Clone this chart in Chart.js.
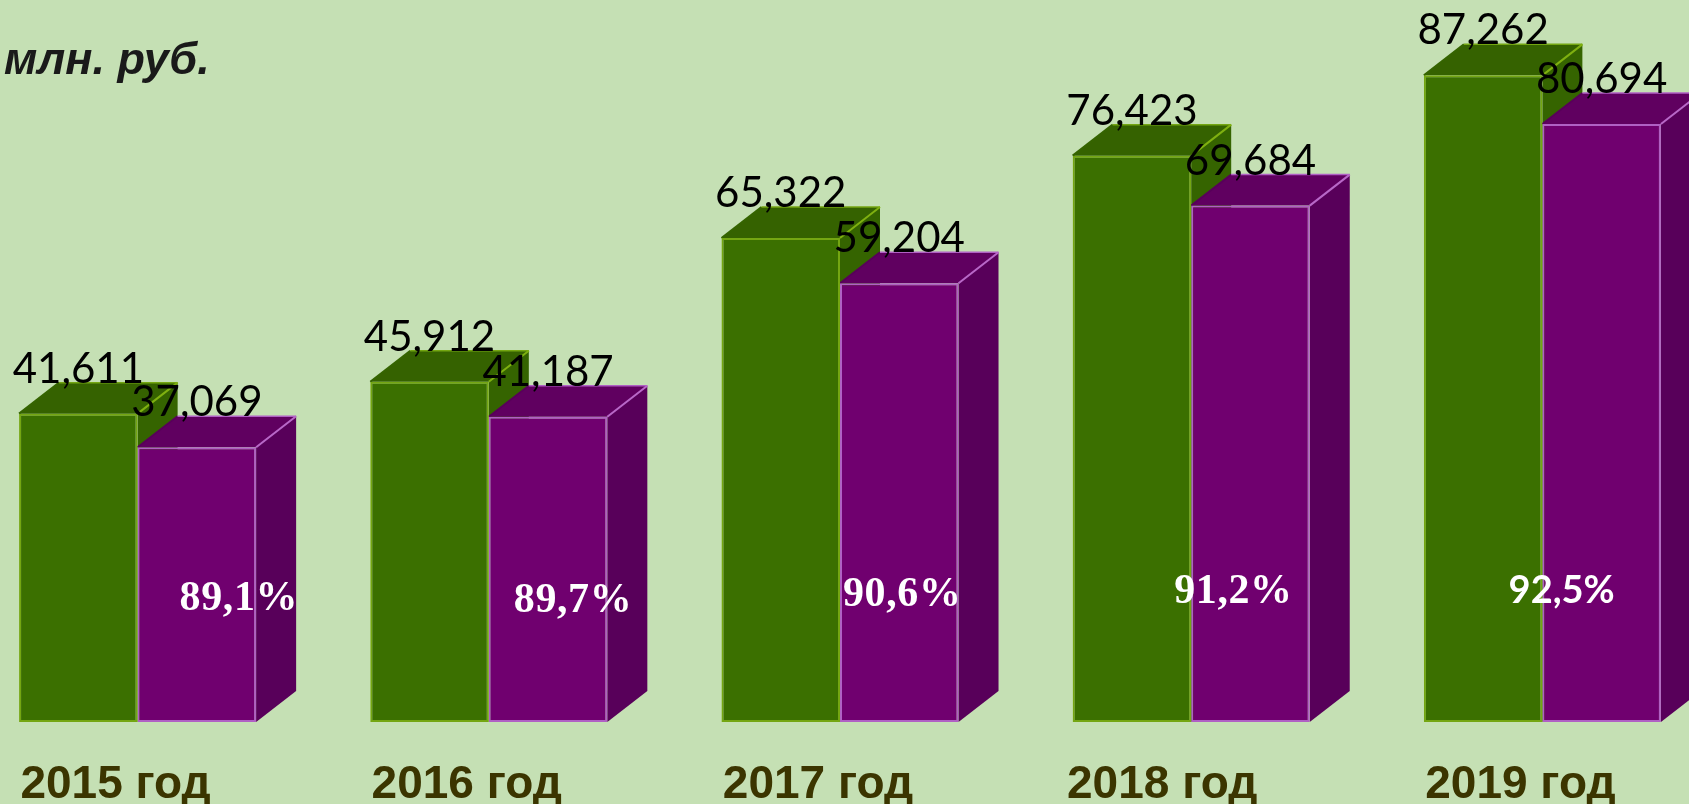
<!DOCTYPE html>
<html><head><meta charset="utf-8">
<style>html,body{margin:0;padding:0;background:#C5E0B4;overflow:hidden}canvas{display:block;margin-left:-38px}</style>
<script src="https://cdn.jsdelivr.net/npm/chart.js@4"></script></head>
<body><canvas id="c" width="1756" height="804"></canvas>
<script>
const categories = ['2015 год','2016 год','2017 год','2018 год','2019 год'];
const seriesGreen = [41.611, 45.912, 65.322, 76.423, 87.262];
const seriesPurple = [37.069, 41.187, 59.204, 69.684, 80.694];
const greenLabels = ['41,611','45,912','65,322','76,423','87,262'];
const purpleLabels = ['37,069','41,187','59,204','69,684','80,694'];
const percentLabels = ['89,1%','89,7%','90,6%','91,2%','92,5%'];
const unitLabel = 'млн. руб.';

const PAGE_SHIFT = 38;           // canvas sits this far left of the page edge
const DEPTH_X = 40, DEPTH_Y = 31;
const palette = [
  {front:'#3B7000', top:'#356200', side:'#356400', edge:'#74A612', edgeLight:'#7FB010'},
  {front:'#70006F', top:'#600060', side:'#58005A', edge:'#B060C4', edgeLight:'#B868C8'}
];
const pctNudge = [[42,-112],[25,-110],[3,-116],[-17,-119],[-40,-119]];
const pctFonts = ['bold 42px "Liberation Serif"','bold 42px "Liberation Serif"','bold 42px "Liberation Serif"','bold 42px "Liberation Serif"','bold 38px Lato'];
const pctSpacing = ['0.6px','0.6px','0.6px','0.6px','0px'];
const tickNudge = [1,1,1,-6,1];

function poly(ctx, pts, fill){
  ctx.beginPath(); pts.forEach((p,i)=>i?ctx.lineTo(p[0],p[1]):ctx.moveTo(p[0],p[1])); ctx.closePath();
  ctx.fillStyle = fill; ctx.fill();
}
function line(ctx, a, b, color, w){
  ctx.beginPath(); ctx.moveTo(a[0],a[1]); ctx.lineTo(b[0],b[1]); ctx.strokeStyle=color; ctx.lineWidth=w; ctx.stroke();
}
const box3d = {
  id:'box3d',
  beforeDraw(chart){
    const items = chart.scales.x.getLabelItems();
    items.forEach((it,i)=>{ it.options.translation = [it.options.translation[0]+tickNudge[i], it.options.translation[1]]; });
    tickNudge.fill(0);
  },
  beforeDatasetsDraw(chart){
    const ctx = chart.ctx;
    [0,1].forEach(ds=>{
      const c = palette[ds];
      chart.getDatasetMeta(ds).data.forEach(b=>{
        const l=b.x-b.width/2, r=b.x+b.width/2, t=b.y, bot=b.base;
        poly(ctx,[[r,t],[r+DEPTH_X,t-DEPTH_Y],[r+DEPTH_X,bot-DEPTH_Y],[r,bot]],c.side);
        poly(ctx,[[l,t],[l+DEPTH_X,t-DEPTH_Y],[r+DEPTH_X,t-DEPTH_Y],[r,t]],c.top);
        line(ctx,[l,t],[l+DEPTH_X,t-DEPTH_Y],c.side,2);
        line(ctx,[l+DEPTH_X,t-DEPTH_Y],[r+DEPTH_X,t-DEPTH_Y],c.edge,1.5);
        line(ctx,[r,t],[r+DEPTH_X,t-DEPTH_Y],c.edgeLight,2);
      });
    });
  },
  afterDatasetsDraw(chart){
    const ctx = chart.ctx;
    ctx.save();
    ctx.textAlign='center'; ctx.textBaseline='alphabetic';
    ctx.font='42px Lato'; ctx.fillStyle='#000000';
    [[0,greenLabels],[1,purpleLabels]].forEach(([ds,labels])=>{
      chart.getDatasetMeta(ds).data.forEach((b,i)=>ctx.fillText(labels[i],b.x,b.y-DEPTH_Y));
    });
    ctx.fillStyle='#FFFFFF';
    chart.getDatasetMeta(1).data.forEach((b,i)=>{
      ctx.font=pctFonts[i];
      ctx.letterSpacing=pctSpacing[i];
      ctx.fillText(percentLabels[i],b.x+pctNudge[i][0],b.base+pctNudge[i][1]);
    });
    ctx.letterSpacing='0px';
    ctx.textAlign='left';
    ctx.font='italic bold 45px "Liberation Sans"'; ctx.fillStyle='#1A1A1A';
    ctx.fillText(unitLabel,4+PAGE_SHIFT,74);
    ctx.restore();
  }
};
new Chart(document.getElementById('c'),{
  type:'bar',
  data:{labels:categories,datasets:[
    {data:seriesGreen,backgroundColor:palette[0].front,borderColor:palette[0].edge,borderWidth:2,borderSkipped:false},
    {data:seriesPurple,backgroundColor:palette[1].front,borderColor:palette[1].edge,borderWidth:2,borderSkipped:false}
  ]},
  options:{
    responsive:false,animation:false,
    layout:{padding:{left:0,right:0,top:18,bottom:0}},
    plugins:{legend:{display:false},tooltip:{enabled:false}},
    datasets:{bar:{categoryPercentage:0.675,barPercentage:1}},
    scales:{
      x:{grid:{display:false,drawTicks:false},border:{display:false},
         afterFit(s){s.height=82;},
         ticks:{color:'#3B3500',font:{family:'"Liberation Sans"',weight:'bold',size:46},labelOffset:-23,padding:36,maxRotation:0,autoSkip:false}},
      y:{display:false,min:0,max:95}
    }
  },
  plugins:[box3d]
});
</script></body></html>
